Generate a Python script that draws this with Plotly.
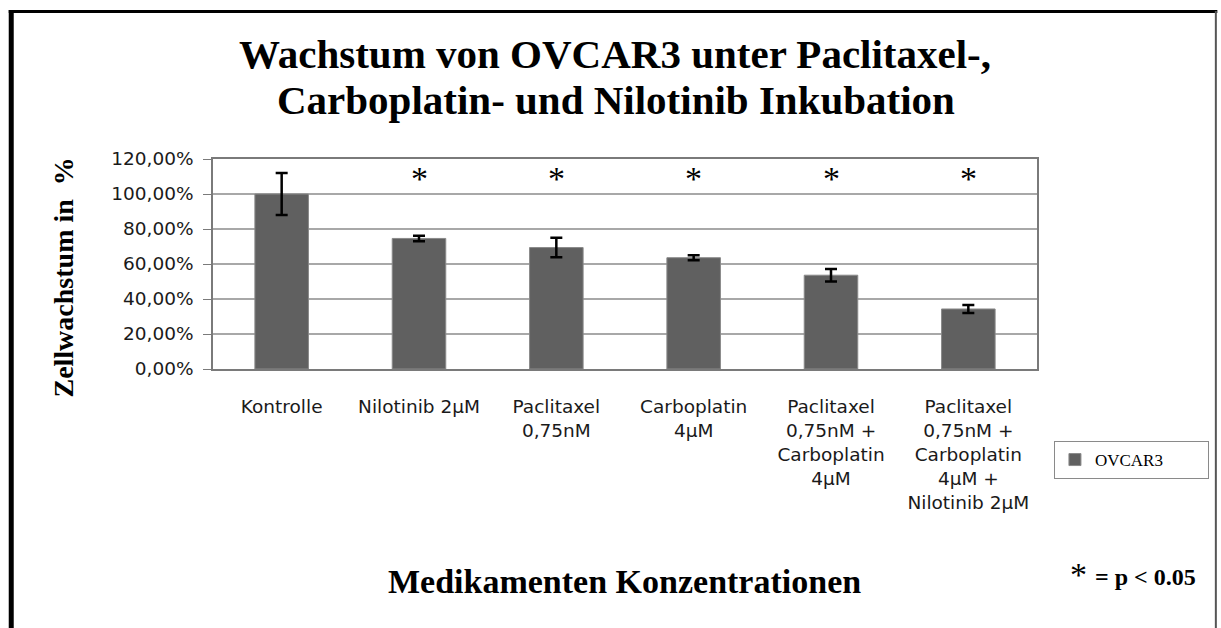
import plotly.graph_objects as go

categories = [
    "Kontrolle",
    "Nilotinib 2µM",
    "Paclitaxel<br>0,75nM",
    "Carboplatin<br>4µM",
    "Paclitaxel<br>0,75nM +<br>Carboplatin<br>4µM",
    "Paclitaxel<br>0,75nM +<br>Carboplatin<br>4µM +<br>Nilotinib 2µM",
]
values = [1.00, 0.746, 0.694, 0.636, 0.536, 0.343]
errors = [0.12, 0.016, 0.056, 0.014, 0.036, 0.023]
significant = [False, True, True, True, True, True]
star_level = 1.10
series_name = "OVCAR3"

W, H = 1221, 628
L, R, T, B = 213, 1040, 159, 369  # plot area in px


def px(xp):
    return (xp - L) / (R - L)


def py(yp):
    return (B - yp) / (B - T)


fig = go.Figure()
fig.add_trace(go.Bar(
    x=categories, y=values, name=series_name,
    marker=dict(color="#606060", line=dict(color="#8a8a8a", width=1)),
    error_y=dict(type="data", array=errors, color="black", thickness=2.5, width=6),
))

serif = "Liberation Serif"
annotations = []
for c, s in zip(categories, significant):
    if s:
        annotations.append(dict(x=c, y=star_level, xref="x", yref="y", text="*",
                                showarrow=False, yshift=-2,
                                font=dict(family=serif, size=34, color="black")))

annotations += [
    dict(x=px(616), y=py(54), xref="paper", yref="paper", showarrow=False,
         text="<b>Wachstum von OVCAR3 unter Paclitaxel-,</b>",
         font=dict(family=serif, size=41, color="black"), xanchor="center", yanchor="middle"),
    dict(x=px(617), y=py(100), xref="paper", yref="paper", showarrow=False,
         text="<b>Carboplatin- und Nilotinib Inkubation</b>",
         font=dict(family=serif, size=41, color="black"), xanchor="center", yanchor="middle"),
    dict(x=px(626), y=py(581), xref="paper", yref="paper", showarrow=False,
         text="<b>Medikamenten Konzentrationen</b>",
         font=dict(family=serif, size=34, color="black"), xanchor="center", yanchor="middle"),
    dict(x=px(62), y=py(278), xref="paper", yref="paper", showarrow=False,
         text="<b>Zellwachstum in  %</b>", textangle=-90,
         font=dict(family=serif, size=28, color="black"), xanchor="center", yanchor="middle"),
    dict(x=px(1082), y=py(574), xref="paper", yref="paper", showarrow=False,
         text="*", font=dict(family=serif, size=34, color="black"),
         xanchor="center", yanchor="middle"),
    dict(x=px(1149), y=py(577), xref="paper", yref="paper", showarrow=False,
         text="<b>= p &lt; 0.05</b>", font=dict(family=serif, size=24, color="black"),
         xanchor="center", yanchor="middle"),
]

shapes = [
    # outer frame
    dict(type="line", xref="paper", yref="paper", x0=px(10.5), x1=px(10.5),
         y0=py(10), y1=py(628), line=dict(color="black", width=5)),
    dict(type="line", xref="paper", yref="paper", x0=px(8), x1=px(1221),
         y0=py(11.5), y1=py(11.5), line=dict(color="black", width=3)),
    dict(type="line", xref="paper", yref="paper", x0=px(1219.5), x1=px(1219.5),
         y0=py(11), y1=py(628), line=dict(color="#555555", width=2)),
]

fig.update_layout(
    width=W, height=H,
    margin=dict(l=L, r=W - R, t=T, b=H - B),
    paper_bgcolor="white", plot_bgcolor="white",
    separators=",.",
    bargap=0.61,
    font=dict(family="DejaVu Sans", size=18.5, color="#1a1a1a"),
    showlegend=True,
    legend=dict(x=px(1057), y=py(441), xanchor="left", yanchor="top",
                bordercolor="#8a8a8a", borderwidth=1,
                font=dict(family=serif, size=17, color="black"),
                orientation="h", entrywidth=108),
    annotations=annotations,
    shapes=shapes,
    xaxis=dict(showline=True, mirror=True, linecolor="#7a7a7a", linewidth=1.5,
               showgrid=False, ticks="", tickangle=0, ticklabelstandoff=20),
    yaxis=dict(range=[0, 1.2], dtick=0.2, tickformat=".2%",
               showline=True, mirror=True, linecolor="#7a7a7a", linewidth=1.5,
               showgrid=True, gridcolor="#a8a8a8", gridwidth=1.5,
               ticks="outside", ticklen=8, tickcolor="#7a7a7a", ticklabelstandoff=6,
               zeroline=False),
)

fig.write_html(
    "out.html",
    config={"displayModeBar": False},
    post_script=("document.documentElement.style.overflow='hidden';"
                 "document.body.style.margin='0';document.body.style.overflow='hidden';"),
)
